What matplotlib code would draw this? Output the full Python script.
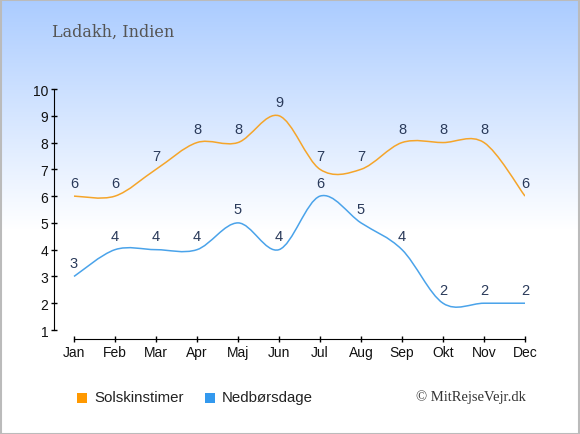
import numpy as np
import matplotlib
matplotlib.use("Agg")
import matplotlib.pyplot as plt
from matplotlib.path import Path
from matplotlib.patches import PathPatch, Rectangle

# Chart data.
months = ["Jan", "Feb", "Mar", "Apr", "Maj", "Jun", "Jul", "Aug", "Sep", "Okt", "Nov", "Dec"]
sun_hours = [6, 6, 7, 8, 8, 9, 7, 7, 8, 8, 8, 6]
rain_days = [3, 4, 4, 4, 5, 4, 6, 5, 4, 2, 2, 2]
series_names = ["Solskinstimer", "Nedbørsdage"]
series_colors = ["#f5a52a", "#4aa3ea"]
legend_colors = ["#ff9900", "#3399ee"]
y_ticks = list(range(1, 11))

title = "Ladakh, Indien"
credit = "\u00a9 MitRejseVejr.dk"


# Build a smooth path through the points (Catmull-Rom as cubic Bezier segments).
def spline_path(xs, ys):
    pts = np.column_stack([xs, ys]).astype(float)
    n = len(pts)
    verts = [pts[0]]
    codes = [Path.MOVETO]
    for i in range(n - 1):
        p0 = pts[max(i - 1, 0)]
        p1 = pts[i]
        p2 = pts[i + 1]
        p3 = pts[min(i + 2, n - 1)]
        c1 = p1 + (p2 - p0) / 6.0
        c2 = p2 - (p3 - p1) / 6.0
        verts += [c1, c2, p2]
        codes += [Path.CURVE4] * 3
    return Path(verts, codes)


fig = plt.figure(figsize=(5.8, 4.35), dpi=100)

# Background gradient, light blue at the top fading to white.
bg = fig.add_axes([0, 0, 1, 1], zorder=-10)
bg.axis("off")
top = np.array([0.67, 0.80, 1.0])
h = 435
grad = np.ones((h, 1, 3))
for r in range(h):
    f = min(r / 230.0, 1.0)
    grad[r, 0] = top * (1 - f) + np.array([1.0, 1.0, 1.0]) * f
bg.imshow(grad, aspect="auto", extent=[0, 1, 0, 1])
bg.set_xlim(0, 1)
bg.set_ylim(0, 1)
fig.patches.append(Rectangle((0.001, 0.001), 0.997, 0.997, transform=fig.transFigure,
                             fill=False, edgecolor="#bbbbbb", linewidth=1.5))

ax = fig.add_axes([54 / 580, 1 - 340 / 435, (525 - 54) / 580, (340 - 90) / 435])
ax.set_facecolor("none")
x = np.arange(len(months))
ax.set_xlim(-20 / 41, 11)
ax.set_ylim(1 - 9 / 26.78, 10)

for vals, color in zip([sun_hours, rain_days], series_colors):
    ax.add_patch(PathPatch(spline_path(x, vals), facecolor="none", edgecolor=color, linewidth=1.1))
    for xi, v in zip(x, vals):
        ax.annotate(str(v), (xi, v), xytext=(0, 9.8), textcoords="offset points",
                    ha="center", va="center", fontsize=10.5, color="#2a3a5a",
                    family="Liberation Sans")

for s in ["top", "right"]:
    ax.spines[s].set_visible(False)
ax.spines["left"].set_bounds(1, 10)
ax.spines["bottom"].set_bounds(0, 11)
ax.set_xticks(x)
ax.set_xticklabels(months)
ax.set_yticks(y_ticks)
ax.tick_params(axis="both", direction="inout", length=4, width=1, labelsize=10,
               labelcolor="#111111", pad=2)
for lbl in ax.get_xticklabels() + ax.get_yticklabels():
    lbl.set_family("Liberation Sans")

fig.text(52 / 580, 1 - 32 / 435, title, fontsize=11.5, color="#555555",
         family="DejaVu Serif", va="center", ha="left")

# Legend below the chart.
lx = [77, 205]
for name, color, px in zip(series_names, legend_colors, lx):
    fig.patches.append(Rectangle((px / 580, 1 - 404 / 435), 10 / 580, 10 / 435,
                                 transform=fig.transFigure, facecolor=color, edgecolor="none"))
    fig.text((px + 17) / 580, 1 - 398 / 435, name, fontsize=10.8, color="#222222",
             family="Liberation Sans", va="center", ha="left")

fig.text(526 / 580, 1 - 397 / 435, credit, fontsize=10.5, color="#333333",
         family="Liberation Serif", va="center", ha="right")

fig.savefig("out.png", dpi=100)
